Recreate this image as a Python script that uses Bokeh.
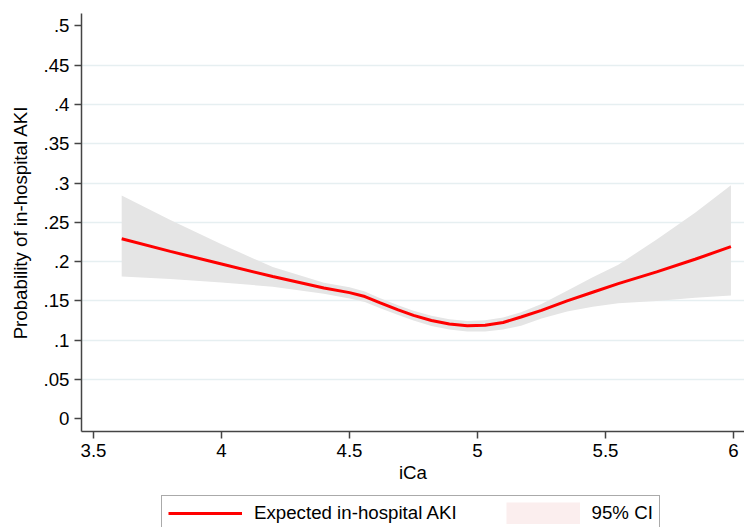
from bokeh.plotting import figure
from bokeh.layouts import column
from bokeh.models import Range1d, FixedTicker, Legend, LegendItem
from bokeh.embed import file_html
from bokeh.resources import INLINE

# ---- data ----
ica = [3.61, 3.8, 4.0, 4.2, 4.4, 4.5, 4.56, 4.62, 4.69, 4.75, 4.82, 4.89,
       4.96, 5.03, 5.1, 5.17, 5.25, 5.35, 5.45, 5.55, 5.7, 5.85, 5.99]
expected = [0.229, 0.213, 0.197, 0.181, 0.1665, 0.1605, 0.1555, 0.1475, 0.1385,
            0.1315, 0.125, 0.1205, 0.1185, 0.119, 0.1225, 0.1295, 0.138, 0.150,
            0.161, 0.172, 0.187, 0.203, 0.219]
ci_upper = [0.284, 0.253, 0.222, 0.193, 0.173, 0.1675, 0.162, 0.1535, 0.1445,
            0.1375, 0.131, 0.1265, 0.1245, 0.1255, 0.129, 0.1355, 0.146, 0.163,
            0.180, 0.196, 0.228, 0.262, 0.297]
ci_lower = [0.181, 0.178, 0.1735, 0.168, 0.159, 0.153, 0.1485, 0.1405, 0.132,
            0.125, 0.118, 0.1135, 0.111, 0.111, 0.1135, 0.1185, 0.1275, 0.1365,
            0.1425, 0.147, 0.150, 0.154, 0.157]

x_ticks = [3.5, 4, 4.5, 5, 5.5, 6]
x_tick_labels = ["3.5", "4", "4.5", "5", "5.5", "6"]
y_ticks = [0, 0.05, 0.1, 0.15, 0.2, 0.25, 0.3, 0.35, 0.4, 0.45, 0.5]
y_tick_labels = ["0", ".05", ".1", ".15", ".2", ".25", ".3", ".35", ".4", ".45", ".5"]
legend_labels = ["Expected in-hospital AKI", "95% CI"]
key_x = [0]
key_y = [0]

FONT = "Liberation Sans"
FS = "18.7px"

p = figure(width=744, height=492, output_backend="svg", toolbar_location=None,
           x_range=Range1d(3.453, 6.043), y_range=Range1d(-0.0162, 0.5157),
           min_border_left=81, min_border_right=0, min_border_top=13,
           min_border_bottom=61)
p.outline_line_color = None
p.background_fill_color = "white"
p.border_fill_color = "white"

# CI band and expected curve
p.varea(x=ica, y1=ci_lower, y2=ci_upper, fill_color="#e5e5e5", fill_alpha=1.0)
p.line(ica, expected, line_color="#ff0000", line_width=3)

# axes
xa = p.xaxis[0]
xa.ticker = FixedTicker(ticks=x_ticks)
xa.major_label_overrides = {t: l for t, l in zip(x_ticks, x_tick_labels)}
ya = p.yaxis[0]
ya.ticker = FixedTicker(ticks=y_ticks)
ya.major_label_overrides = {t: l for t, l in zip(y_ticks, y_tick_labels)}

for ax in (xa, ya):
    ax.axis_line_color = "#444444"
    ax.axis_line_width = 1.5
    ax.major_tick_line_color = "#444444"
    ax.major_tick_line_width = 1.5
    ax.major_tick_out = 7
    ax.major_tick_in = 0
    ax.minor_tick_out = 0
    ax.minor_tick_in = 0
    ax.major_label_text_font = FONT
    ax.major_label_text_font_size = FS
    ax.major_label_text_color = "black"
    ax.axis_label_text_font = FONT
    ax.axis_label_text_font_size = FS
    ax.axis_label_text_font_style = "normal"
    ax.axis_label_text_color = "black"
    ax.major_label_standoff = 5

xa.axis_label = "iCa"
xa.axis_label_standoff = 2
ya.axis_label = "Probability of in-hospital AKI"
ya.axis_label_standoff = 10
ya.major_label_orientation = "horizontal"

p.xgrid.visible = False
p.ygrid.ticker = FixedTicker(ticks=y_ticks[1:-1])
p.ygrid.grid_line_color = "#e6eff1"
p.ygrid.grid_line_width = 1.5

# legend strip below the plot (cut at the bottom edge as in the reference)
lg = figure(width=744, height=35, output_backend="svg", toolbar_location=None,
            x_axis_location=None, y_axis_location=None,
            min_border_left=0, min_border_right=0, min_border_top=0,
            min_border_bottom=0)
lg.outline_line_color = None
lg.xgrid.visible = False
lg.ygrid.visible = False
key_line = lg.line(x=key_x, y=key_y, line_color="#ff0000", line_width=3)
key_band = lg.line(x=key_x, y=key_y, line_color="#fbeeee", line_width=22)

legend = Legend(items=[LegendItem(label=legend_labels[0], renderers=[key_line]),
                       LegendItem(label=legend_labels[1], renderers=[key_band])],
                location=(80, -4), orientation="horizontal",
                border_line_color="#555555", border_line_width=1.5,
                background_fill_color="white", background_fill_alpha=1.0,
                padding=6, spacing=49, glyph_width=74, glyph_height=22,
                label_standoff=12, label_height=20, margin=0,
                label_text_font=FONT, label_text_font_size=FS,
                label_text_color="black")
lg.add_layout(legend, "center")

open("out.html", "w").write(file_html(column(p, lg, spacing=0), INLINE))
